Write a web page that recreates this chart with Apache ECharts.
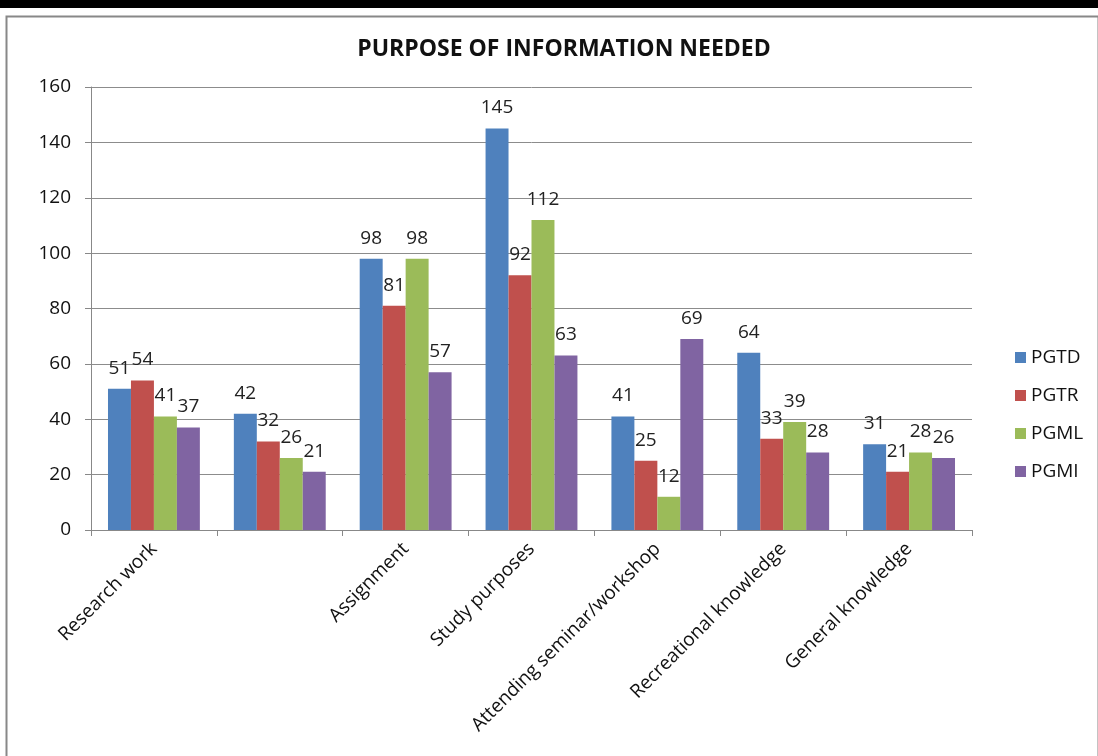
<!DOCTYPE html>
<html>
<head>
<meta charset="utf-8">
<script src="https://cdn.jsdelivr.net/npm/echarts@6/dist/echarts.min.js"></script>
<style>
  html, body { margin: 0; padding: 0; background: #fff; }
  #main { width: 1098px; height: 756px; }
</style>
</head>
<body>
<div id="main"></div>
<script>
var categories = ['Research work', '', 'Assignment', 'Study purposes', 'Attending seminar/workshop', 'Recreational knowledge', 'General knowledge']
var seriesNames = ['PGTD', 'PGTR', 'PGML', 'PGMI']
var pgtd = [51, 42, 98, 145, 41, 64, 31]
var pgtr = [54, 32, 81, 92, 25, 33, 21]
var pgml = [41, 26, 98, 112, 12, 39, 28]
var pgmi = [37, 21, 57, 63, 69, 28, 26]
var colors = ['#4f81bd', '#c0504d', '#9bbb59', '#8064a2']

var font = '"Open Sans", "Liberation Sans", sans-serif'
var chart = echarts.init(document.getElementById('main'))

function makeSeries(name, data, color) {
    return {
        name: name,
        type: 'bar',
        data: data,
        barGap: '0%',
        barCategoryGap: '27%',
        itemStyle: { color: color },
        label: {
            show: true,
            position: 'top',
            distance: 11,
            color: '#222',
            fontFamily: font,
            fontSize: 19
        }
    }
}

var option = {
    animation: false,
    backgroundColor: '#fff',
    graphic: [
        { type: 'rect', left: 0, top: 0, shape: { width: 1098, height: 8 }, style: { fill: '#000' } },
        { type: 'rect', left: 4, top: 14, shape: { width: 1092, height: 760 }, style: { fill: 'none', stroke: '#888', lineWidth: 2 } }
    ],
    title: {
        text: 'PURPOSE OF INFORMATION NEEDED',
        left: 559,
        textAlign: 'center',
        top: 33,
        textStyle: { fontFamily: font, fontSize: 23, fontWeight: 'bold', color: '#111' }
    },
    legend: {
        orient: 'vertical',
        left: 1010,
        top: 343,
        itemWidth: 11,
        itemHeight: 11,
        itemGap: 19,
        icon: 'rect',
        textStyle: { fontFamily: font, fontSize: 19, color: '#111' },
        data: seriesNames
    },
    grid: { left: 91, right: 126, top: 87, bottom: 226, containLabel: false },
    xAxis: {
        type: 'category',
        data: categories,
        axisLine: { lineStyle: { color: '#888' } },
        axisTick: { show: true, alignWithLabel: false, length: 6, lineStyle: { color: '#888' } },
        axisLabel: { rotate: 45, interval: 0, margin: 16, fontFamily: font, fontSize: 19, color: '#111' }
    },
    yAxis: {
        type: 'value',
        min: 0,
        max: 160,
        interval: 20,
        axisLine: { show: true, lineStyle: { color: '#888' } },
        axisTick: { show: true, length: 6, lineStyle: { color: '#888' } },
        axisLabel: { margin: 20, fontFamily: font, fontSize: 19, color: '#111' },
        splitLine: { lineStyle: { color: '#8c8c8c' } }
    },
    series: [
        makeSeries(seriesNames[0], pgtd, colors[0]),
        makeSeries(seriesNames[1], pgtr, colors[1]),
        makeSeries(seriesNames[2], pgml, colors[2]),
        makeSeries(seriesNames[3], pgmi, colors[3])
    ]
}

chart.setOption(option)
</script>
</body>
</html>
